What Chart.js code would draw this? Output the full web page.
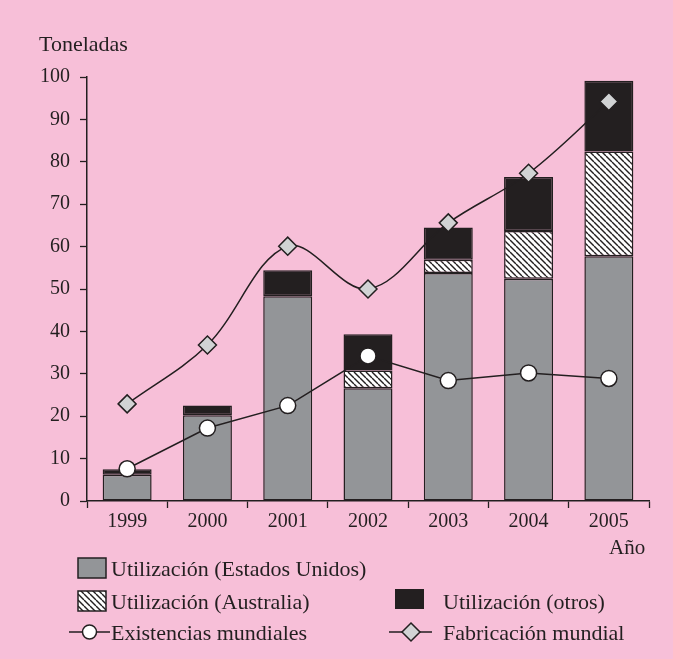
<!DOCTYPE html>
<html>
<head>
<meta charset="utf-8">
<script src="https://cdn.jsdelivr.net/npm/chart.js@4.4.1/dist/chart.umd.min.js"></script>
<style>
  html, body { margin: 0; padding: 0; background: #f7bfd8; }
  #wrap { width: 673px; height: 659px; }
</style>
</head>
<body>
<div id="wrap"><canvas id="grafico" width="673" height="659"></canvas></div>
<script>
// Datos (toneladas)
const years = ['1999', '2000', '2001', '2002', '2003', '2004', '2005'];
const usoEEUU = [6.2, 20.2, 48.3, 26.6, 53.8, 52.4, 57.7];
const usoAustralia = [null, null, null, 4.2, 3.1, 11.3, 24.7];
const usoOtros = [1.3, 2.3, 6.1, 8.5, 7.6, 12.7, 16.7];
const existencias = [7.6, 17.2, 22.5, 34.2, 28.4, 30.2, 28.9];
const fabricacion = [22.9, 36.8, 60.1, 50.0, 65.6, 77.3, 94.2];
const yTicks = [0, 10, 20, 30, 40, 50, 60, 70, 80, 90, 100];

const INK = '#231f20';
const PINK = '#f7bfd8';
const GRIS = '#939598';
const GRIS_CLARO = '#d1d3d4';
const FONT = "'Liberation Serif', 'Times New Roman', serif";

// rayado diagonal para Australia
function makeHatch() {
  const s = 6;
  const c = document.createElement('canvas');
  c.width = s; c.height = s;
  const g = c.getContext('2d');
  g.fillStyle = '#ffffff';
  g.fillRect(0, 0, s, s);
  g.strokeStyle = INK;
  g.lineWidth = 1.4;
  for (let k = -1; k <= 1; k++) {
    g.beginPath();
    g.moveTo(0, k * s);
    g.lineTo(s, s + k * s);
    g.stroke();
  }
  return g.createPattern(c, 'repeat');
}
const hatch = makeHatch();

const fondo = {
  id: 'fondo',
  beforeDraw(chart) {
    const ctx = chart.ctx;
    ctx.save();
    ctx.fillStyle = PINK;
    ctx.fillRect(0, 0, chart.width, chart.height);
    ctx.restore();
  }
};

// titulos y leyenda dibujados a mano
const leyenda = {
  id: 'leyenda',
  afterDraw(chart) {
    const ctx = chart.ctx;
    ctx.save();
    ctx.fillStyle = INK;
    ctx.textBaseline = 'alphabetic';
    ctx.font = '22px ' + FONT;
    ctx.fillText('Toneladas', 39, 51);
    ctx.font = '21px ' + FONT;
    ctx.fillText('Año', 609, 554);

    ctx.lineWidth = 1.5;
    ctx.strokeStyle = INK;

    // fila 1
    ctx.fillStyle = GRIS;
    ctx.fillRect(78, 558, 28, 20);
    ctx.strokeRect(78, 558, 28, 20);
    // fila 2
    ctx.fillStyle = hatch;
    ctx.fillRect(78, 591, 28, 20);
    ctx.strokeRect(78, 591, 28, 20);
    ctx.fillStyle = INK;
    ctx.fillRect(395, 589, 29, 20);
    // fila 3: lineas con marcadores
    ctx.beginPath();
    ctx.moveTo(69, 632); ctx.lineTo(110, 632);
    ctx.moveTo(389, 632); ctx.lineTo(432, 632);
    ctx.stroke();
    ctx.beginPath();
    ctx.arc(89.5, 632, 7, 0, Math.PI * 2);
    ctx.fillStyle = '#ffffff';
    ctx.fill();
    ctx.stroke();
    ctx.beginPath();
    ctx.moveTo(411, 623); ctx.lineTo(420, 632); ctx.lineTo(411, 641); ctx.lineTo(402, 632);
    ctx.closePath();
    ctx.fillStyle = GRIS_CLARO;
    ctx.fill();
    ctx.stroke();

    ctx.fillStyle = INK;
    ctx.font = '22px ' + FONT;
    ctx.fillText('Utilización (Estados Unidos)', 111, 576);
    ctx.fillText('Utilización (Australia)', 111, 609);
    ctx.fillText('Utilización (otros)', 443, 609);
    ctx.fillText('Existencias mundiales', 111, 640);
    ctx.fillText('Fabricación mundial', 443, 640);
    ctx.restore();
  }
};

const barBase = {
  type: 'bar',
  borderColor: INK,
  borderWidth: 1.5,
  borderSkipped: false,
  barPercentage: 0.61,
  categoryPercentage: 1,
  order: 2,
  yAxisID: 'y'
};

const ctx = document.getElementById('grafico').getContext('2d');
const grafico = new Chart(ctx, {
  data: {
    labels: years,
    datasets: [
      Object.assign({}, barBase, { label: 'Utilización (Estados Unidos)', data: usoEEUU, backgroundColor: GRIS }),
      Object.assign({}, barBase, { label: 'Utilización (Australia)', data: usoAustralia, backgroundColor: hatch }),
      Object.assign({}, barBase, { label: 'Utilización (otros)', data: usoOtros, backgroundColor: INK }),
      {
        type: 'line', label: 'Existencias mundiales', data: existencias,
        borderColor: INK, borderWidth: 1.5, tension: 0,
        pointStyle: 'circle', pointRadius: 8, pointBackgroundColor: '#ffffff',
        pointBorderColor: INK, pointBorderWidth: 1.5, order: 1, yAxisID: 'y2'
      },
      {
        type: 'line', label: 'Fabricación mundial', data: fabricacion,
        borderColor: INK, borderWidth: 1.5, tension: 0.35,
        pointStyle: 'rectRot', pointRadius: 9, pointBackgroundColor: GRIS_CLARO,
        pointBorderColor: INK, pointBorderWidth: 1.5, order: 1, yAxisID: 'y2'
      }
    ]
  },
  options: {
    responsive: false,
    animation: false,
    layout: { padding: { left: 0, top: 77, right: 24, bottom: 118 } },
    plugins: {
      legend: { display: false },
      tooltip: { enabled: false }
    },
    scales: {
      x: {
        stacked: true,
        offset: true,
        afterFit: (scale) => { scale.height = 40; },
        grid: { offset: true, drawOnChartArea: false, drawTicks: true, tickLength: 7, tickColor: INK, tickWidth: 1.3 },
        border: { display: true, color: INK, width: 1.5 },
        ticks: { color: INK, font: { family: FONT, size: 20 }, padding: 2, maxRotation: 0 }
      },
      y: {
        stacked: true,
        min: 0,
        max: 100,
        afterFit: (scale) => { scale.width = 87; },
        afterBuildTicks: (scale) => { scale.ticks = yTicks.map(v => ({ value: v })); },
        grid: { drawOnChartArea: false, drawTicks: true, tickLength: 7, tickColor: INK, tickWidth: 1.3 },
        border: { display: true, color: INK, width: 1.5 },
        ticks: { color: INK, font: { family: FONT, size: 20 }, padding: 10 }
      },
      y2: {
        display: false,
        stacked: false,
        min: 0,
        max: 100
      }
    }
  },
  plugins: [fondo, leyenda]
});
</script>
</body>
</html>
